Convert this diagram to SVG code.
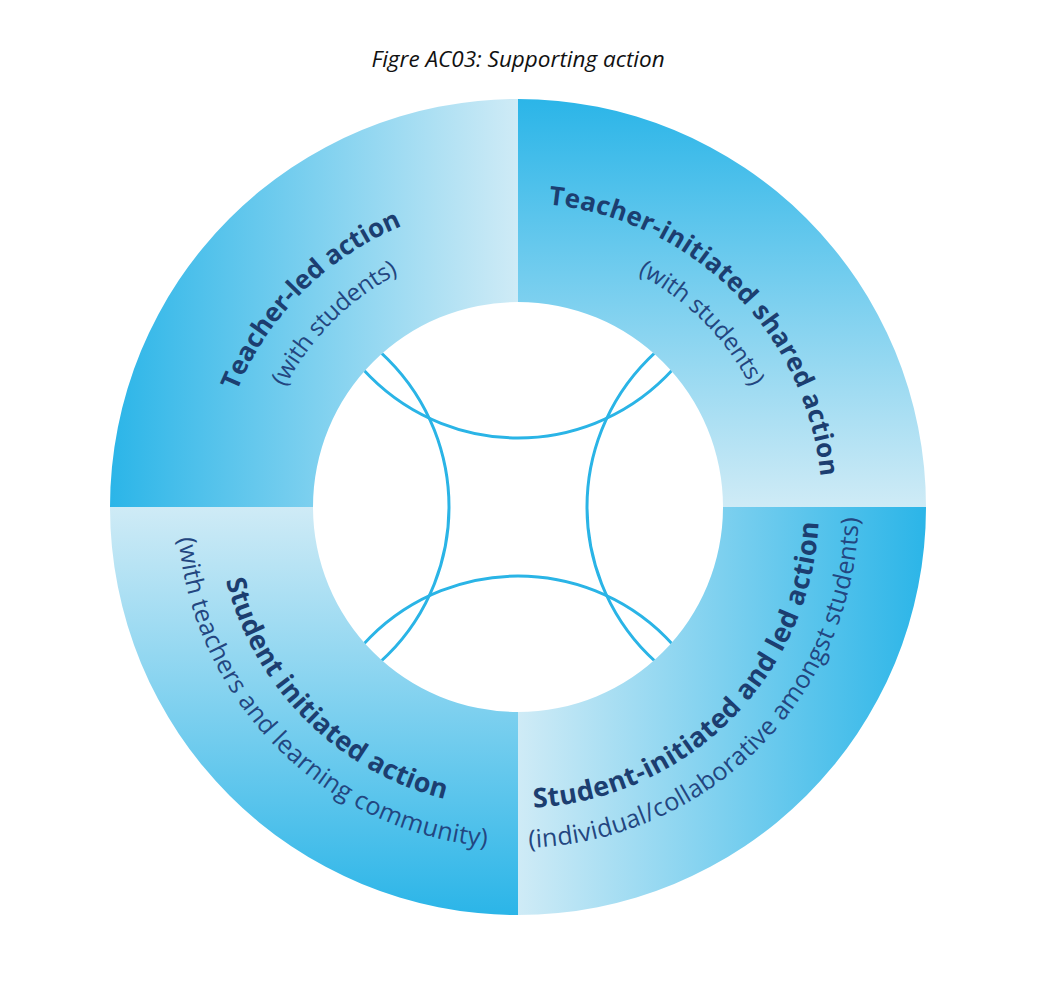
<svg xmlns="http://www.w3.org/2000/svg" xmlns:xlink="http://www.w3.org/1999/xlink" width="1048" height="986" viewBox="0 0 1048 986">
  <style>
    .title { font-family: "Open Sans", "Noto Sans", "Liberation Sans", sans-serif; font-style: italic; font-size: 22.5px; fill: #111111; }
    .bold { font-family: "Open Sans", "Noto Sans", "Liberation Sans", sans-serif; font-weight: 700; font-size: 26px; fill: #1c3e70; }
    .bold-b { font-size: 27px; }
    .sub { font-family: "Open Sans", "Noto Sans", "Liberation Sans", sans-serif; font-weight: 400; font-size: 24px; fill: #234680; }
    .sub-b { font-size: 25px; }
    .arc { fill: none; stroke: #2ab4e6; stroke-width: 3; }
  </style>
  <defs>
    <linearGradient id="gTL" gradientUnits="userSpaceOnUse" x1="110" y1="0" x2="518" y2="0">
      <stop offset="0" stop-color="#2bb5e8"/>
      <stop offset="1" stop-color="#cfebf6"/>
    </linearGradient>
    <linearGradient id="gTR" gradientUnits="userSpaceOnUse" x1="0" y1="99" x2="0" y2="507">
      <stop offset="0" stop-color="#2bb5e8"/>
      <stop offset="1" stop-color="#cfebf6"/>
    </linearGradient>
    <linearGradient id="gBR" gradientUnits="userSpaceOnUse" x1="518" y1="0" x2="926" y2="0">
      <stop offset="0" stop-color="#cfebf6"/>
      <stop offset="1" stop-color="#2bb5e8"/>
    </linearGradient>
    <linearGradient id="gBL" gradientUnits="userSpaceOnUse" x1="0" y1="507" x2="0" y2="915">
      <stop offset="0" stop-color="#cfebf6"/>
      <stop offset="1" stop-color="#2bb5e8"/>
    </linearGradient>
    <clipPath id="innerClip">
      <circle cx="518" cy="507" r="205"/>
    </clipPath>
    <!-- clockwise arcs centred at the top (outward-facing text) -->
    <path id="topBold" d="M232.3,403 A304,304 0 0 1 803.7,403"/>
    <path id="topSub" d="M271.8,417.4 A262,262 0 0 1 764.2,417.4"/>
    <!-- counter-clockwise arcs centred at the bottom (inward-facing text) -->
    <path id="botBold" d="M235.1,609.9 A301,301 0 0 0 800.9,609.9"/>
    <path id="botSub" d="M197.6,623.6 A341,341 0 0 0 838.4,623.6"/>
  </defs>

  <rect x="0" y="0" width="1048" height="986" fill="#ffffff"/>

  <text class="title" x="518" y="67" text-anchor="middle">Figre AC03: Supporting action</text>

  <g id="teacher-led">
    <path d="M110,507 A408,408 0 0 1 518,99 L518,302 A205,205 0 0 0 313,507 Z" fill="url(#gTL)"/>
    <text class="bold" transform="rotate(-45 518 507)" text-anchor="middle"><textPath xlink:href="#topBold" href="#topBold" startOffset="50%" textLength="240" lengthAdjust="spacing">Teacher-led action</textPath></text>
    <text class="sub" transform="rotate(-45 518 507)" text-anchor="middle"><textPath xlink:href="#topSub" href="#topSub" startOffset="50%" textLength="163" lengthAdjust="spacing">(with students)</textPath></text>
  </g>

  <g id="teacher-initiated">
    <path d="M518,99 A408,408 0 0 1 926,507 L723,507 A205,205 0 0 0 518,302 Z" fill="url(#gTR)"/>
    <text class="bold" transform="rotate(45 518 507)" text-anchor="middle"><textPath xlink:href="#topBold" href="#topBold" startOffset="50%" textLength="417" lengthAdjust="spacing">Teacher-initiated shared action</textPath></text>
    <text class="sub" transform="rotate(45 518 507)" text-anchor="middle"><textPath xlink:href="#topSub" href="#topSub" startOffset="50%" textLength="163" lengthAdjust="spacing">(with students)</textPath></text>
  </g>

  <g id="student-initiated-led">
    <path d="M926,507 A408,408 0 0 1 518,915 L518,712 A205,205 0 0 0 723,507 Z" fill="url(#gBR)"/>
    <text class="bold bold-b" transform="rotate(-45 518 507)" text-anchor="middle"><textPath xlink:href="#botBold" href="#botBold" startOffset="50%" textLength="442" lengthAdjust="spacing">Student-initiated and led action</textPath></text>
    <text class="sub sub-b" transform="rotate(-45 518 507)" text-anchor="middle"><textPath xlink:href="#botSub" href="#botSub" startOffset="50%" textLength="514" lengthAdjust="spacing">(individual/collaborative amongst students)</textPath></text>
  </g>

  <g id="student-initiated">
    <path d="M518,915 A408,408 0 0 1 110,507 L313,507 A205,205 0 0 0 518,712 Z" fill="url(#gBL)"/>
    <text class="bold bold-b" transform="rotate(45 518 507)" text-anchor="middle"><textPath xlink:href="#botBold" href="#botBold" startOffset="50%" textLength="325" lengthAdjust="spacing">Student initiated action</textPath></text>
    <text class="sub sub-b" transform="rotate(45 518 507)" text-anchor="middle"><textPath xlink:href="#botSub" href="#botSub" startOffset="50%" textLength="473" lengthAdjust="spacing">(with teachers and learning community)</textPath></text>
  </g>

  <g id="connectors" clip-path="url(#innerClip)">
    <circle class="arc" cx="518" cy="229" r="209"/>
    <circle class="arc" cx="518" cy="785" r="209"/>
    <circle class="arc" cx="240" cy="507" r="209"/>
    <circle class="arc" cx="796" cy="507" r="209"/>
  </g>
</svg>
